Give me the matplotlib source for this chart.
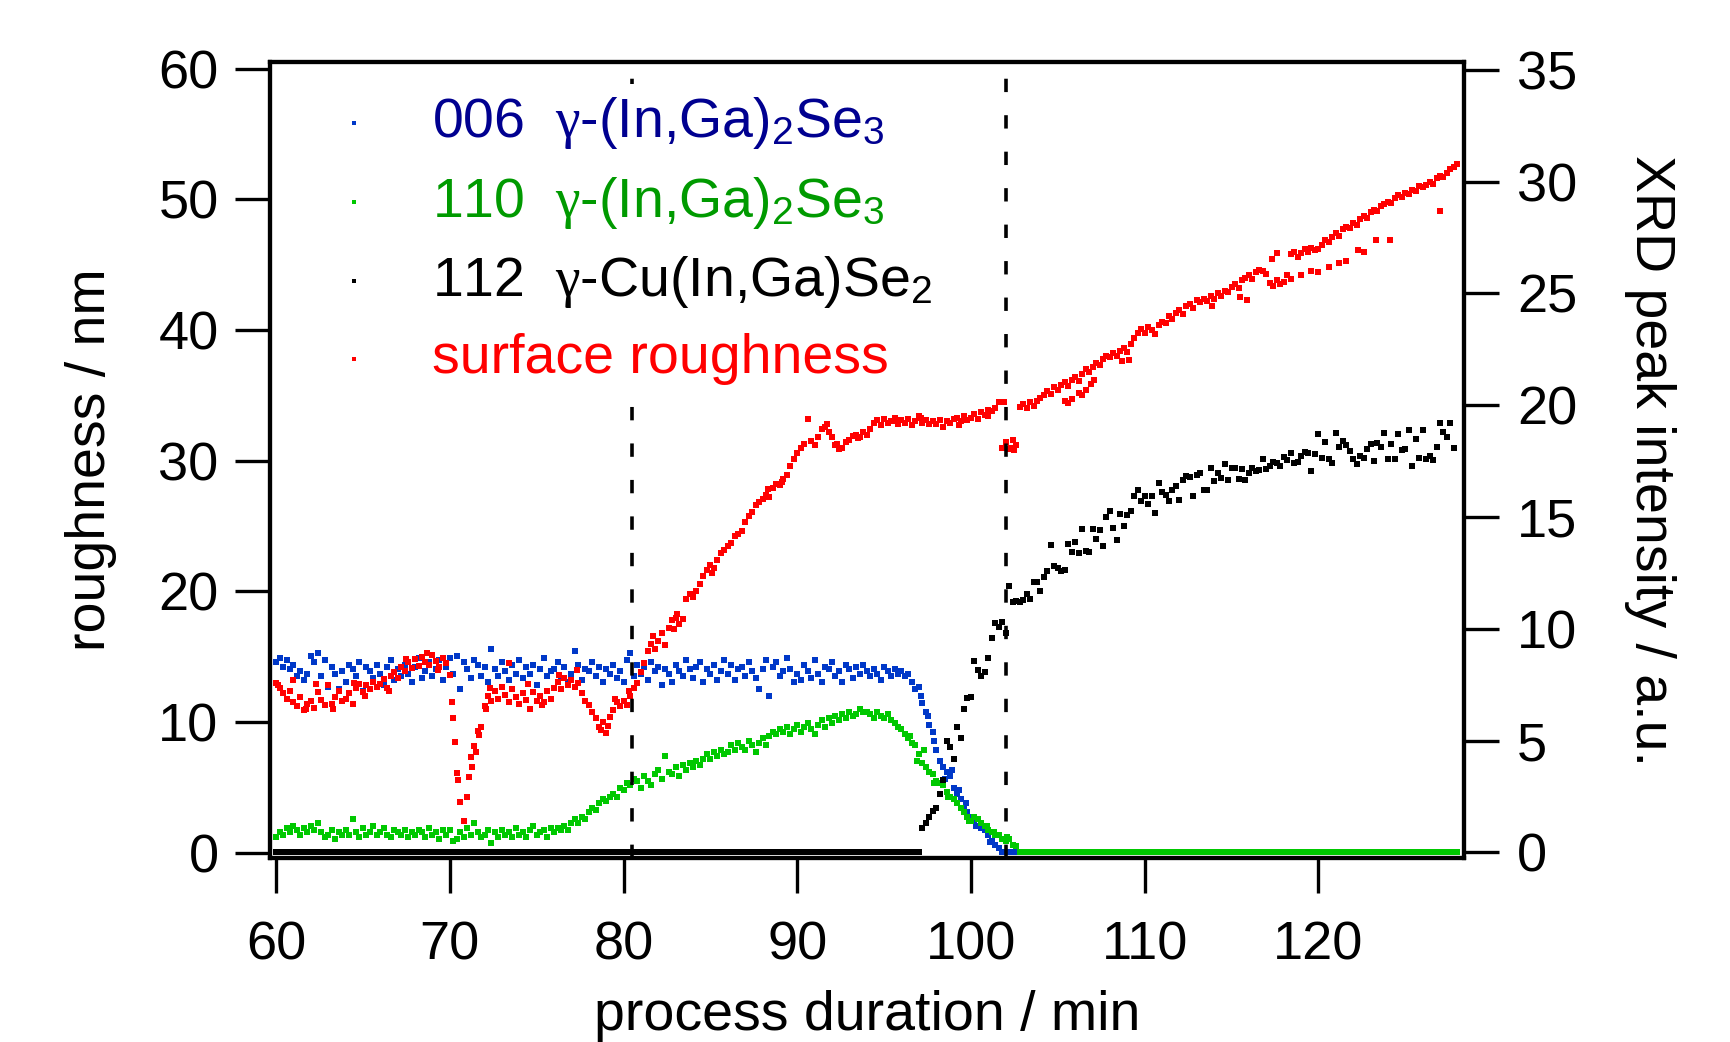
import numpy as np
import matplotlib
matplotlib.use("Agg")
import matplotlib.pyplot as plt

plt.rcParams['font.family'] = ['Liberation Sans', 'DejaVu Sans']
plt.rcParams['mathtext.fontset'] = 'custom'
plt.rcParams['mathtext.rm'] = 'Liberation Sans'
plt.rcParams['mathtext.it'] = 'Liberation Serif'
plt.rcParams['mathtext.bf'] = 'Liberation Sans:bold'

# sampling grid: all series start at 60 min, one point every 0.2 min
T0 = 60.0
STEP = 0.2

# surface roughness (nm), 60.0 ... 128.0 min
roughness = [
    13.0, 12.6, 12.2, 11.8, 12.4, 11.5, 11.2, 11.9, 10.9, 11.4,
    11.6, 11.1, 12.3, 11.7, 11.3, 12.8, 11.4, 11.9, 12.4, 11.6,
    11.8, 12.2, 11.4, 12.6, 12.9, 12.3, 12.8, 12.5, 13.1, 12.7,
    12.9, 13.3, 12.6, 13.5, 13.8, 13.4, 14.2, 13.9, 14.6, 14.1,
    14.8, 14.3, 15.0, 14.6, 14.4, 15.1, 14.7, 14.2, 14.9, 14.5,
    13.6, 10.3, 6.1, 3.9, 2.4, 4.3, 7.3, 8.2, 9.3, 9.6,
    11.2, 12.0, 11.6, 12.4, 11.8, 12.7, 12.1, 11.5, 12.5, 11.9,
    11.4, 12.2, 11.7, 11.0, 12.3, 11.6, 12.0, 11.5, 12.4, 11.8,
    12.6, 13.1, 12.5, 13.4, 12.8, 13.2, 12.7, 13.0, 12.2, 11.6,
    11.3, 10.8, 10.3, 9.6, 10.0, 9.2, 10.4, 10.9, 11.5, 11.2,
    11.6, 11.3, 12.0, 12.6, 13.0, 13.8, 14.5, 15.4, 16.0, 15.6,
    16.2, 16.8, 15.9, 17.2, 17.8, 18.0, 17.5, 17.9, 19.4, 19.8,
    19.6, 20.0, 20.6, 21.2, 21.6, 22.0, 21.8, 22.4, 22.9, 23.2,
    23.5, 23.7, 24.2, 24.4, 24.6, 25.3, 25.8, 26.1, 26.6, 26.8,
    27.1, 27.4, 27.2, 27.9, 28.2, 28.1, 28.6, 28.9, 29.6, 30.1,
    30.6, 31.0, 31.3, 33.2, 31.5, 31.2, 31.8, 32.4, 32.6, 32.2,
    31.8, 31.2, 30.9, 31.0, 31.4, 31.6, 31.9, 32.0, 31.8, 32.2,
    32.0, 32.4, 32.9, 33.1, 32.7, 33.2, 32.9, 33.0, 33.3, 32.8,
    33.1, 32.9, 33.2, 32.7, 33.0, 33.4, 32.9, 33.1, 32.8, 33.0,
    32.8, 33.1, 32.6, 33.0, 32.9, 33.2, 33.3, 33.0, 33.4, 33.1,
    33.3, 33.6, 33.2, 33.7, 33.5, 33.4, 33.8, 34.0, 34.5, 31.0,
    31.4, 30.9, 31.6, 31.2, 34.1, 34.3, 34.0, 34.5, 34.2, 34.6,
    34.8, 35.0, 35.3, 35.1, 35.6, 35.4, 35.8, 36.0, 35.7, 36.2,
    36.4, 36.1, 36.6, 37.0, 36.8, 37.2, 37.5, 37.3, 37.8, 38.0,
    37.9, 38.2, 38.0, 38.4, 38.6, 38.3, 38.9, 39.4, 39.8, 40.1,
    39.8, 40.2, 40.0, 39.7, 40.4, 40.6, 40.5, 41.1, 40.8, 41.3,
    41.5, 41.2, 41.8, 42.0, 41.7, 42.3, 42.1, 42.4, 42.2, 42.6,
    42.4, 42.8, 42.6, 43.0, 42.9, 43.3, 43.5, 43.2, 43.8, 44.0,
    44.2, 43.9, 44.4, 44.6, 44.5, 44.3, 43.6, 43.4, 43.8, 43.5,
    43.7, 44.2, 45.8, 46.0, 45.6, 45.9, 46.2, 46.0, 46.3, 46.1,
    46.2, 46.5, 46.9, 46.7, 47.1, 47.4, 47.2, 47.7, 47.9, 47.8,
    48.2, 48.0, 48.5, 48.7, 48.6, 49.0, 49.2, 49.1, 49.5, 49.6,
    49.8, 49.7, 50.1, 50.3, 50.2, 50.5, 50.4, 50.7, 50.6, 51.0,
    50.9, 51.1, 51.3, 51.2, 51.6, 51.8, 51.7, 52.0, 52.3, 52.5,
    52.7,
]

# additional roughness readings taken between grid points
roughness_extra_t = [
    60.1, 61.0, 61.7, 62.3, 63.3, 64.5, 65.1, 66.5, 67.5, 68.7,
    69.3, 70.1, 70.3, 70.5, 71.1, 71.3, 71.5, 71.7, 72.1, 72.3,
    73.4, 74.5, 75.3, 76.3, 77.3, 78.7, 79.1, 79.5, 80.3, 81.7,
    82.9, 83.1, 85.1, 88.3, 89.1, 91.7, 92.3, 93.5, 95.5, 97.1,
    99.3, 101.0, 101.9, 102.3, 102.5, 105.4, 105.6, 105.8, 106.2, 106.4,
    106.6, 106.9, 107.1, 108.7, 109.1, 113.9, 115.5, 115.9, 117.3, 117.6,
    118.4, 119.0, 119.6, 120.0, 120.6, 121.2, 121.6, 122.3, 122.6, 123.3,
    124.1, 127.0,
]
roughness_extra = [
    12.8, 13.2, 11.0, 12.9, 11.0, 13.0, 12.0, 12.4, 14.8, 15.3,
    14.0, 11.5, 8.5, 5.6, 5.8, 6.6, 7.7, 9.0, 11.0, 12.6,
    14.5, 12.9, 11.3, 13.6, 14.0, 9.4, 9.7, 11.8, 12.4, 16.6,
    17.1, 18.3, 21.4, 27.8, 28.4, 32.8, 31.3, 31.7, 33.0, 33.3,
    32.7, 33.9, 34.5, 31.0, 30.8, 34.6, 34.4, 34.7, 35.2, 35.0,
    35.4, 35.9, 36.2, 37.6, 37.7, 41.8, 42.5, 42.3, 45.4, 45.9,
    43.9, 44.2, 44.5, 44.4, 44.8, 45.1, 45.3, 46.1, 46.0, 46.9,
    46.9, 49.1,
]

# 006 reflection of gamma-(In,Ga)2Se3 (a.u.), 60.0 ... 102.6 min
igs_006 = [
    8.5, 8.7, 8.3, 8.6, 8.2, 8.4, 7.9, 8.1, 7.7, 8.0,
    8.8, 8.5, 8.9, 7.9, 8.6, 7.4, 8.3, 8.0, 7.3, 8.1,
    7.6, 8.4, 8.2, 7.9, 8.5, 7.2, 8.3, 8.1, 7.8, 8.4,
    8.0, 7.5, 8.3, 8.6, 7.7, 8.2, 7.9, 8.4, 8.0, 7.6,
    8.3, 8.7, 7.8, 8.1, 8.5, 7.9, 8.2, 8.6, 7.7, 8.3,
    8.7, 8.0, 8.8, 7.3, 8.5, 8.2, 7.8, 8.6, 8.4, 7.9,
    8.3, 7.6, 9.1, 8.2, 7.9, 8.5, 8.1, 7.7, 8.4, 8.0,
    8.6, 7.8, 8.3, 8.0, 8.4, 7.5, 8.2, 8.7, 7.9, 8.1,
    8.2, 8.5, 7.8, 8.3, 7.6, 8.0, 9.0, 8.4, 7.7, 8.2,
    8.1, 8.5, 7.9, 8.3, 7.6, 8.2, 8.0, 8.4, 7.8, 8.1,
    7.6, 8.6, 8.9, 7.9, 8.4, 8.0, 8.3, 7.7, 8.5, 8.1,
    8.3, 7.5, 8.2, 8.0, 7.6, 8.4, 8.1, 7.9, 8.6, 8.2,
    7.8, 8.3, 8.5, 7.6, 8.2, 8.0, 8.4, 7.7, 8.1, 8.6,
    8.0, 8.4, 7.7, 8.2, 8.3, 7.9, 8.5, 8.1, 7.8, 7.3,
    8.2, 8.6, 7.0, 8.3, 8.5, 7.9, 8.1, 8.7, 8.2, 7.6,
    8.0, 7.7, 8.4, 8.1, 7.8, 8.6, 8.0, 7.6, 8.3, 8.2,
    8.5, 7.9, 8.1, 7.6, 8.4, 8.2, 7.8, 8.3, 8.0, 8.4,
    8.1, 7.9, 8.2, 8.0, 7.7, 8.3, 8.1, 7.9, 8.2, 8.0,
    8.1, 7.9, 8.0, 7.6, 7.3, 7.4, 6.7, 6.3, 5.7, 5.4,
    4.6, 4.1, 3.8, 3.6, 3.4, 2.9, 2.6, 2.4, 2.0, 1.8,
    1.6, 1.4, 1.2, 1.1, 1.0, 0.8, 0.5, 0.35, 0.2, 0.0,
    0.0, 0.0, 0.0, 0.0,
]
igs_006_extra_t = [97.1, 97.5, 97.9, 98.5, 98.9, 99.3, 99.7, 100.3, 101.1]
igs_006_extra = [7.0, 6.1, 5.0, 3.3, 3.7, 2.8, 2.2, 1.2, 0.45]

# 110 reflection of gamma-(In,Ga)2Se3 (a.u.), 60.0 ... 128.0 min
igs_110 = [
    0.7, 0.9, 0.8, 1.1, 0.9, 1.2, 1.0, 0.8, 1.1, 0.9,
    1.2, 1.0, 1.3, 0.9, 0.7, 0.8, 1.0, 0.6, 0.9, 0.8,
    1.0, 0.8, 1.5, 0.9, 0.7, 1.1, 0.8, 0.9, 1.2, 0.8,
    0.9, 1.1, 0.8, 0.7, 1.0, 0.9, 0.8, 1.0, 0.7, 0.9,
    0.8, 1.0, 0.9, 0.7, 1.1, 0.8, 0.9, 0.6, 1.0, 0.8,
    1.0, 0.5, 0.6, 0.9, 0.7, 1.1, 0.8, 1.3, 0.9, 0.7,
    0.8, 1.0, 0.4, 0.9, 0.7, 1.0, 0.8, 0.9, 0.7, 1.1,
    0.8, 0.9, 0.7, 1.0, 1.2, 0.8, 0.9, 1.0, 0.7, 1.1,
    0.9, 1.1, 1.0, 1.2, 1.0, 1.3, 1.5, 1.3, 1.6, 1.5,
    1.8, 2.0, 1.9, 2.2, 2.4, 2.3, 2.5, 2.6, 2.5, 2.9,
    2.8, 3.1, 3.0, 3.3, 3.2, 2.9, 3.4, 3.2, 3.0, 3.5,
    3.7, 3.3, 4.3, 3.6, 3.5, 3.8, 3.4, 3.9, 3.7, 4.0,
    3.8, 4.1, 3.9, 4.2, 4.4, 4.2, 4.5, 4.3, 4.6, 4.4,
    4.5, 4.8, 4.6, 4.9, 4.7, 4.6, 5.0, 4.8, 4.5, 4.9,
    5.1, 4.8, 5.2, 5.4, 5.3, 5.5, 5.4, 5.6, 5.3, 5.5,
    5.7, 5.4, 5.6, 5.8, 5.5, 5.3, 5.7, 5.9, 5.6, 6.0,
    5.8, 6.1, 5.9, 6.2, 6.0, 6.3, 6.1, 6.2, 6.4, 6.3,
    6.3, 6.2, 6.0, 6.3, 6.1, 6.0, 6.2, 5.9, 5.8, 5.6,
    5.5, 5.3, 5.1, 4.9, 4.8, 4.4, 4.0, 3.8, 3.6, 3.5,
    3.2, 3.1, 3.0, 2.7, 2.5, 2.4, 2.2, 2.0, 1.8, 1.6,
    1.4, 1.6, 1.5, 1.3, 1.2, 1.0, 0.9, 0.8, 0.8, 0.6,
    0.5, 0.6, 0.35, 0.3,
] + [0.0] * 127
igs_110_extra_t = [96.5, 96.9, 97.3, 97.9, 98.7, 99.9, 100.9, 101.3, 102.1]
igs_110_extra = [5.2, 4.1, 4.6, 3.1, 2.5, 1.4, 1.2, 0.9, 0.7]

# 112 reflection of chalcopyrite Cu(In,Ga)Se2 (a.u.), 60.0 ... 127.8 min
cigs_112 = [0.0] * 186 + [
    1.1, 1.3, 1.6, 1.85,
    2.0, 2.6, 3.25, 5.0, 4.7, 4.2, 5.6, 5.1, 6.4, 6.9,
    6.95, 8.55, 8.15, 7.9, 8.05, 8.7, 9.6, 10.25, 10.1, 10.3,
    9.8, 11.9, 11.2, 11.25, 11.2, 11.3, 11.55, 11.35, 12.1, 12.1,
    11.7, 12.3, 12.6, 13.75, 12.8, 12.7, 12.6, 12.65, 13.8, 13.45,
    13.9, 13.4, 14.45, 13.5, 13.45, 14.45, 14.0, 14.4, 13.7, 15.0,
    15.25, 14.5, 13.95, 15.15, 14.6, 15.1, 15.25, 15.95, 16.2, 15.7,
    15.95, 15.6, 15.95, 15.2, 16.5, 16.1, 16.0, 15.7, 16.2, 16.4,
    15.75, 16.65, 16.85, 16.8, 15.95, 16.9, 16.95, 16.2, 16.2, 17.2,
    16.6, 16.95, 16.75, 17.35, 16.65, 17.2, 17.2, 16.7, 17.15, 16.65,
    16.95, 17.2, 17.05, 17.1, 17.6, 17.15, 17.3, 17.45, 17.4, 17.3,
    17.7, 17.55, 17.85, 17.4, 17.45, 17.75, 17.9, 17.85, 17.05, 17.8,
    18.7, 17.65, 18.35, 17.6, 17.4, 18.75, 18.15, 18.4, 18.2, 17.95,
    17.6, 17.35, 17.75, 17.65, 18.05, 18.25, 17.5, 18.3, 18.15, 18.75,
    17.6, 18.25, 17.6, 18.7, 18.0, 18.05, 18.9, 17.3, 18.5, 17.65,
    18.9, 17.6, 17.75, 17.55, 18.15, 19.2, 18.8, 18.6, 19.2, 18.1,
]

# phase transition markers (min)
transitions = [80.5, 102.0]

labels = [
    r'006  $\gamma$-(In,Ga)$_2$Se$_3$',
    r'110  $\gamma$-(In,Ga)$_2$Se$_3$',
    r'112  $\gamma$-Cu(In,Ga)Se$_2$',
    'surface roughness',
]
marker_colors = ['#0038C8', '#00C800', '#000000', '#FF0000']
text_colors = ['#000090', '#009A00', '#000000', '#FF0000']


def grid(values):
    return T0 + STEP * np.arange(len(values))


TICK_FS = 39
LABEL_FS = 40
LEG_FS = 40
MS = 14

fig = plt.figure(figsize=(17.30, 10.42), dpi=100)
ax = fig.add_axes([0.15607, 0.17658, 0.69017, 0.76392])
ax2 = ax.twinx()
ax.set_zorder(2)
ax.patch.set_visible(False)
ax2.set_zorder(1)

sc = dict(marker='s', s=MS, linewidths=0)
h006 = ax2.scatter(grid(igs_006), igs_006, color=marker_colors[0], **sc)
ax2.scatter(igs_006_extra_t, igs_006_extra, color=marker_colors[0], **sc)
h110 = ax2.scatter(grid(igs_110), igs_110, color=marker_colors[1], **sc)
ax2.scatter(igs_110_extra_t, igs_110_extra, color=marker_colors[1], **sc)
h112 = ax2.scatter(grid(cigs_112), cigs_112, color=marker_colors[2], **sc)
hr = ax.scatter(grid(roughness), roughness, color=marker_colors[3], **sc)
ax.scatter(roughness_extra_t, roughness_extra, color=marker_colors[3], **sc)

for tx in transitions:
    ax.axvline(tx, color='black', lw=2.6, linestyle=(0, (3.7, 6.4)), zorder=1)

ax.set_xlim(59.65, 128.38)
ax.set_ylim(-0.4, 60.5)
ax2.set_ylim(-0.25, 35.35)

ax.set_xticks([60, 70, 80, 90, 100, 110, 120])
ax.set_yticks([0, 10, 20, 30, 40, 50, 60])
ax2.set_yticks([0, 5, 10, 15, 20, 25, 30, 35])

for a in (ax, ax2):
    for sp in a.spines.values():
        sp.set_linewidth(3)
        sp.set_color('black')
    a.tick_params(axis='both', which='major', direction='out', length=25,
                  width=2.4, labelsize=TICK_FS, colors='black')
ax.tick_params(axis='x', pad=20)
ax.tick_params(axis='y', pad=12)
ax2.tick_params(axis='y', pad=13)

ax.set_xlabel('process duration / min', fontsize=LABEL_FS, labelpad=14)
ax.set_ylabel('roughness / nm', fontsize=LABEL_FS, labelpad=30)
ax2.set_ylabel('XRD peak intensity / a.u.', fontsize=LABEL_FS, rotation=-90,
               va='bottom', labelpad=34)

leg = ax.legend([h006, h110, h112, hr], labels, loc='upper left',
                bbox_to_anchor=(0.017, 0.972), borderaxespad=0, borderpad=0.2,
                handlelength=1.9, handletextpad=0.45, labelspacing=0.42,
                fontsize=LEG_FS, markerscale=0.6, frameon=True, fancybox=False,
                labelcolor=text_colors)
leg.get_frame().set_facecolor('white')
leg.get_frame().set_edgecolor('none')
leg.get_frame().set_alpha(1.0)
leg.set_zorder(10)

fig.savefig('out.png', dpi=100)
